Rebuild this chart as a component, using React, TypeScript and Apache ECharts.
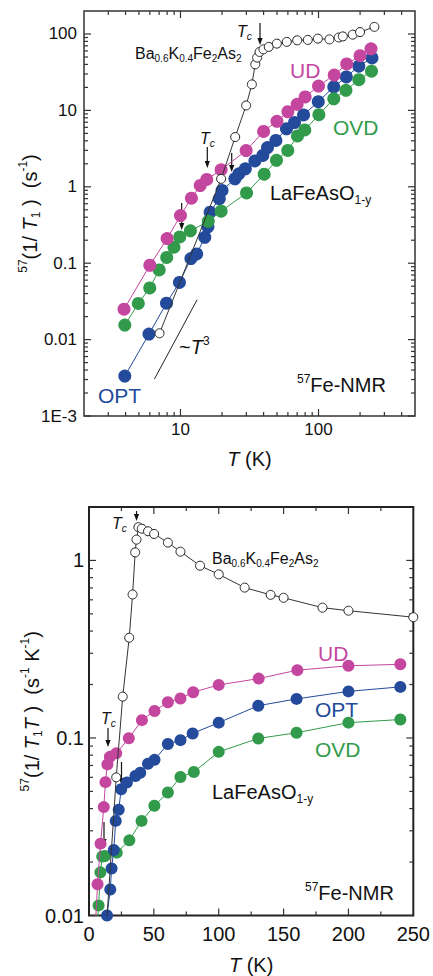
import React, { useEffect, useRef } from 'react';
import * as echarts from 'echarts';

const FONT = '"Liberation Sans", Arial, Helvetica, sans-serif';

const C_UD = '#C4469F';
const C_OPT = '#234A9B';
const C_OVD = '#329B4B';
const C_BA = '#333333';

// ---------- Top panel: 57(1/T1) vs T (log-log) ----------
const topBaT = [7.05, 19.7, 24.9, 29.9, 32.9, 34.8, 35.9, 37.4, 39.9, 43.6, 49.9, 58.9, 70.1, 83.6, 98.9, 120, 140, 150, 177, 200, 254];
const topBaV = [0.0121, 1.27, 4.48, 11.6, 21.9, 40.1, 49.1, 58.2, 63, 67.8, 74.8, 78.8, 82.7, 83.7, 87, 85, 90, 93, 98, 106, 124];

const topUdT = [3.9, 6, 8, 10, 12, 13.9, 15.5, 19.7, 29.9, 40, 50, 60, 70, 80, 100, 130, 160, 200, 240];
const topUdV = [0.025, 0.094, 0.21, 0.42, 0.71, 1.04, 1.25, 1.67, 2.98, 5.3, 7.2, 9.6, 12.0, 15.0, 20.8, 29.0, 40.5, 52, 64];

const topOptT = [3.95, 5.91, 7.92, 9.83, 11.9, 13.1, 15, 15.8, 16.4, 19.1, 20, 24.8, 26.5, 29.5, 34.6, 39.5, 42.7, 49.1, 58.6, 67, 77.9, 99.6, 129, 159, 196, 244];
const topOptV = [0.00333, 0.0118, 0.030, 0.056, 0.115, 0.132, 0.218, 0.30, 0.466, 0.70, 0.895, 1.27, 1.48, 1.72, 2.18, 2.57, 3.26, 4.04, 5.75, 6.94, 8.71, 13.0, 20.3, 27.4, 37.9, 48.6];

const topOvdT = [3.95, 4.95, 5.99, 7.01, 7.95, 8.97, 9.88, 11.8, 15.9, 19.7, 30.1, 40.4, 49.6, 59.9, 70.4, 79.5, 100.6, 129, 158, 196, 242];
const topOvdV = [0.0155, 0.0297, 0.0475, 0.0817, 0.119, 0.162, 0.221, 0.265, 0.353, 0.48, 0.83, 1.46, 2.22, 2.99, 4.63, 5.55, 8.78, 14.2, 18.3, 25.2, 32.6];

// ~T^3 guide line end points
const guideT = [6.48, 13.2];
const guideV = [0.00305, 0.0333];

const topYTicks = [0.001, 0.01, 0.1, 1, 10, 100];
const topYLabels = ['1E-3', '0.01', '0.1', '1', '10', '100'];
const topXTicks = [10, 100];
const topXLabels = ['10', '100'];

// ---------- Bottom panel: 57(1/T1T) vs T (lin-log) ----------
const botBaT = [7, 21, 26, 31, 33.6, 35.6, 36.6, 38.1, 40.7, 45.5, 50.2, 60.8, 70.5, 85.6, 100, 120, 140, 150, 180, 200, 250];
const botBaV = [0.0017, 0.060, 0.171, 0.367, 0.643, 1.11, 1.31, 1.54, 1.51, 1.46, 1.41, 1.26, 1.12, 0.934, 0.835, 0.703, 0.640, 0.616, 0.542, 0.521, 0.479];

const botUdT = [3.9, 6.6, 8.9, 11.4, 12.7, 14.2, 16.1, 21, 30.7, 40.8, 50.5, 60.8, 70.5, 80.3, 100, 130.8, 160.6, 200, 240];
const botUdV = [0.0064, 0.015, 0.0254, 0.0408, 0.0564, 0.071, 0.0783, 0.0819, 0.0996, 0.126, 0.142, 0.159, 0.167, 0.181, 0.199, 0.216, 0.241, 0.255, 0.260];

const botOptT = [9.8, 13.9, 16.4, 17.4, 19.1, 20.6, 22.9, 24.8, 29.2, 35.8, 39.5, 45.5, 50.5, 60.8, 70.5, 79.9, 100, 130.5, 160, 200, 240];
const botOptV = [0.0057, 0.0100, 0.0140, 0.0184, 0.0234, 0.0341, 0.0394, 0.0514, 0.0561, 0.0611, 0.0637, 0.0716, 0.0753, 0.0925, 0.0972, 0.106, 0.122, 0.152, 0.166, 0.183, 0.194];

const botOvdT = [4, 5, 6, 7.4, 8.8, 10.2, 12.3, 21.4, 31.1, 40.5, 50.4, 60.8, 70.5, 80.8, 100, 130.5, 160, 200, 240];
const botOvdV = [0.0039, 0.0059, 0.0079, 0.0114, 0.0175, 0.0215, 0.0216, 0.0226, 0.0265, 0.0341, 0.0415, 0.0493, 0.0603, 0.0643, 0.0835, 0.0994, 0.107, 0.122, 0.127];

const botYTicks = [0.01, 0.1, 1];
const botYLabels = ['0.01', '0.1', '1'];
const botXTicks = [0, 50, 100, 150, 200, 250];
const botXMinor = [25, 75, 125, 175, 225];

// ---------- helpers ----------
const zip = (a: number[], b: number[]) => a.map((v, i) => [v, b[i]]);

const logMinor = (lo: number, hi: number) => {
  const out: number[] = [];
  for (let e = Math.floor(Math.log10(lo)); e <= Math.ceil(Math.log10(hi)); e++) {
    for (let k = 2; k <= 9; k++) {
      const v = k * Math.pow(10, e);
      if (v > lo * 1.0001 && v < hi * 0.9999) out.push(v);
    }
  }
  return out;
};

const labelFor = (ticks: number[], labels: string[]) => (v: number) => {
  for (let i = 0; i < ticks.length; i++) {
    if (Math.abs(Math.log10(v) - Math.log10(ticks[i])) < 1e-6) return labels[i];
  }
  return '';
};

const richFor = (size: number, color: string) => {
  const sub = Math.round(size * 0.62);
  const L = Math.round(size * 1.25);
  const base = { fontFamily: FONT, color, fill: color };
  return {
    n: { ...base, fontSize: size, lineHeight: L },
    i: { ...base, fontSize: size, lineHeight: L, fontStyle: 'italic' },
    sub: { ...base, fontSize: sub, lineHeight: sub + 1, verticalAlign: 'bottom' },
    isub: { ...base, fontSize: sub, lineHeight: sub + 1, verticalAlign: 'bottom', fontStyle: 'italic' },
    sup: { ...base, fontSize: sub, lineHeight: sub + 1, verticalAlign: 'top' },
  };
};

const rtext = (x: number, y: number, text: string, size: number, color: string) => ({
  type: 'text',
  x,
  y,
  z: 100,
  silent: true,
  style: {
    text,
    rich: richFor(size, color),
    fill: color,
    fontSize: size,
    fontFamily: FONT,
    align: 'left',
    verticalAlign: 'middle',
  },
});

const arrow = (x: number, y1: number, y2: number) => ({
  type: 'group',
  z: 100,
  silent: true,
  children: [
    { type: 'line', shape: { x1: x, y1, x2: x, y2: y2 - 5 }, style: { stroke: '#111', lineWidth: 1.2 } },
    { type: 'polygon', shape: { points: [[x - 2.6, y2 - 7], [x + 2.6, y2 - 7], [x, y2]] }, style: { fill: '#111' } },
  ],
});

const tickSeries = (
  grid: number,
  xRef: number,
  yRef: number,
  yMaj: number[],
  yMin: number[],
  xMaj: number[],
  xMin: number[],
) => ({
  type: 'custom',
  xAxisIndex: grid,
  yAxisIndex: grid,
  silent: true,
  z: 1,
  encode: { x: 0, y: 1 },
  data: [
    ...yMaj.map((v) => [xRef, v, 0]),
    ...yMin.map((v) => [xRef, v, 1]),
    ...xMaj.map((v) => [v, yRef, 2]),
    ...xMin.map((v) => [v, yRef, 3]),
  ],
  renderItem: (params: any, api: any) => {
    const cs = params.coordSys;
    const kind = api.value(2);
    const p = api.coord([api.value(0), api.value(1)]);
    const len = kind % 2 === 0 ? 7 : 4;
    const st = { stroke: '#333', lineWidth: 1.2 };
    if (kind < 2) {
      const y = p[1];
      return {
        type: 'group',
        children: [
          { type: 'line', shape: { x1: cs.x, y1: y, x2: cs.x + len, y2: y }, style: st },
          { type: 'line', shape: { x1: cs.x + cs.width, y1: y, x2: cs.x + cs.width - len, y2: y }, style: st },
        ],
      };
    }
    const x = p[0];
    return {
      type: 'group',
      children: [
        { type: 'line', shape: { x1: x, y1: cs.y + cs.height, x2: x, y2: cs.y + cs.height - len }, style: st },
        { type: 'line', shape: { x1: x, y1: cs.y, x2: x, y2: cs.y + len }, style: st },
      ],
    };
  },
});

const dataSeries = (
  grid: number,
  data: number[][],
  color: string,
  size: number,
  open: boolean,
  z: number,
) => ({
  type: 'line',
  xAxisIndex: grid,
  yAxisIndex: grid,
  data,
  z,
  symbol: 'circle',
  symbolSize: size,
  showSymbol: true,
  clip: true,
  lineStyle: { color, width: 1 },
  itemStyle: open
    ? { color: '#ffffff', borderColor: '#222', borderWidth: 1 }
    : { color, borderColor: color, borderWidth: 0 },
});

export default function App() {
  const ref = useRef<HTMLDivElement>(null);

  useEffect(() => {
    document.body.style.margin = '0';
    if (!ref.current) return;
    const chart = echarts.init(ref.current, undefined, { renderer: 'svg' });

    const axisLabelBase = { fontFamily: FONT, color: '#111' };
    const nameRich = richFor(20, '#111');

    const option: any = {
      animation: false,
      backgroundColor: '#ffffff',
      grid: [
        { left: 84, top: 11, width: 331, height: 405, show: true, borderColor: '#333', borderWidth: 1.5, backgroundColor: 'transparent' },
        { left: 89, top: 507, width: 330, height: 412, show: true, borderColor: '#222', borderWidth: 2, backgroundColor: 'transparent' },
      ],
      xAxis: [
        {
          type: 'log',
          gridIndex: 0,
          logBase: 10,
          min: 2,
          max: 500,
          axisLine: { show: false },
          axisTick: { show: false },
          splitLine: { show: false },
          axisLabel: { ...axisLabelBase, fontSize: 17, margin: 5, formatter: labelFor(topXTicks, topXLabels) },
          name: '{i|T}{n| (K)}',
          nameLocation: 'middle',
          nameGap: 30,
          nameMoveOverlap: false,
          nameTextStyle: { rich: nameRich, fontSize: 20, fontFamily: FONT, color: '#111' },
        },
        {
          type: 'value',
          gridIndex: 1,
          min: 0,
          max: 250,
          interval: 50,
          axisLine: { show: false },
          axisTick: { show: false },
          splitLine: { show: false },
          axisLabel: { ...axisLabelBase, fontSize: 20, margin: 8 },
          name: '{i|T}{n| (K)}',
          nameLocation: 'middle',
          nameGap: 37,
          nameMoveOverlap: false,
          nameTextStyle: { rich: nameRich, fontSize: 20, fontFamily: FONT, color: '#111' },
        },
      ],
      yAxis: [
        {
          type: 'log',
          gridIndex: 0,
          logBase: 10,
          min: 0.001,
          max: 200,
          axisLine: { show: false },
          axisTick: { show: false },
          splitLine: { show: false },
          axisLabel: { ...axisLabelBase, fontSize: 17, margin: 7, formatter: labelFor(topYTicks, topYLabels) },
          name: '{sup|57}{n|(1/ }{i|T}{sub|1}{n| )  (s}{sup|-1}{n|)}',
          nameLocation: 'middle',
          nameRotate: 90,
          nameGap: 42,
          nameMoveOverlap: false,
          nameTextStyle: { rich: nameRich, fontSize: 20, fontFamily: FONT, color: '#111' },
        },
        {
          type: 'log',
          gridIndex: 1,
          logBase: 10,
          min: 0.01,
          max: 2,
          axisLine: { show: false },
          axisTick: { show: false },
          splitLine: { show: false },
          axisLabel: { ...axisLabelBase, fontSize: 20, margin: 5, formatter: labelFor(botYTicks, botYLabels) },
          name: '{sup|57}{n|(1/ }{i|T}{sub|1}{i|T}{n| )  (s}{sup|-1}{n| K}{sup|-1}{n|)}',
          nameLocation: 'middle',
          nameRotate: 90,
          nameGap: 45,
          nameMoveOverlap: false,
          nameTextStyle: { rich: nameRich, fontSize: 20, fontFamily: FONT, color: '#111' },
        },
      ],
      series: [
        tickSeries(0, 10, 1, topYTicks, logMinor(0.001, 200), topXTicks, logMinor(2, 500)),
        tickSeries(1, 100, 0.1, botYTicks, logMinor(0.01, 2), botXTicks.slice(1, -1), botXMinor),
        // top panel
        {
          type: 'line',
          xAxisIndex: 0,
          yAxisIndex: 0,
          data: zip(guideT, guideV),
          showSymbol: false,
          symbol: 'none',
          lineStyle: { color: '#222', width: 1 },
          z: 3,
        },
        dataSeries(0, zip(topOptT, topOptV), C_OPT, 13, false, 4),
        dataSeries(0, zip(topOvdT, topOvdV), C_OVD, 13, false, 5),
        dataSeries(0, zip(topUdT, topUdV), C_UD, 13, false, 6),
        dataSeries(0, zip(topBaT, topBaV), C_BA, 9, true, 7),
        // bottom panel
        dataSeries(1, zip(botOvdT, botOvdV), C_OVD, 12, false, 4),
        dataSeries(1, zip(botUdT, botUdV), C_UD, 12, false, 5),
        dataSeries(1, zip(botOptT, botOptV), C_OPT, 12, false, 6),
        dataSeries(1, zip(botBaT, botBaV), C_BA, 9, true, 7),
      ],
      graphic: {
        elements: [
          // top panel annotations
          rtext(237, 31, '{i|T}{isub|c}', 16, '#111'),
          arrow(260, 23, 45),
          rtext(135, 53, '{n|Ba}{sub|0.6}{n|K}{sub|0.4}{n|Fe}{sub|2}{n|As}{sub|2}', 16, '#111'),
          rtext(290, 70, '{n|UD}', 21, C_UD),
          rtext(333, 127, '{n|OVD}', 21, C_OVD),
          rtext(200, 138, '{i|T}{isub|c}', 16, '#111'),
          arrow(207.3, 147, 168),
          arrow(231.7, 153, 172),
          arrow(181.7, 203, 230),
          rtext(270, 193, '{n|LaFeAsO}{sub|1-y}', 20, '#111'),
          rtext(179, 347, '{n|~}{i|T}{sup|3}', 20, '#111'),
          rtext(98, 395, '{n|OPT}', 21, C_OPT),
          rtext(297, 385, '{sup|57}{n|Fe-NMR}', 20, '#111'),
          // bottom panel annotations
          rtext(112, 523, '{i|T}{isub|c}', 16, '#111'),
          arrow(136.5, 511, 521),
          rtext(212, 558, '{n|Ba}{sub|0.6}{n|K}{sub|0.4}{n|Fe}{sub|2}{n|As}{sub|2}', 16, '#111'),
          rtext(318, 653, '{n|UD}', 21, C_UD),
          rtext(315, 709, '{n|OPT}', 21, C_OPT),
          rtext(315, 749, '{n|OVD}', 21, C_OVD),
          rtext(101, 718, '{i|T}{isub|c}', 16, '#111'),
          arrow(108, 728, 747),
          arrow(121.5, 762, 785),
          arrow(104, 822, 846),
          rtext(212, 792, '{n|LaFeAsO}{sub|1-y}', 20, '#111'),
          rtext(305, 893, '{sup|57}{n|Fe-NMR}', 20, '#111'),
        ],
      },
    };

    chart.setOption(option);
    return () => {
      chart.dispose();
    };
  }, []);

  return <div ref={ref} style={{ width: 433, height: 976 }} />;
}
